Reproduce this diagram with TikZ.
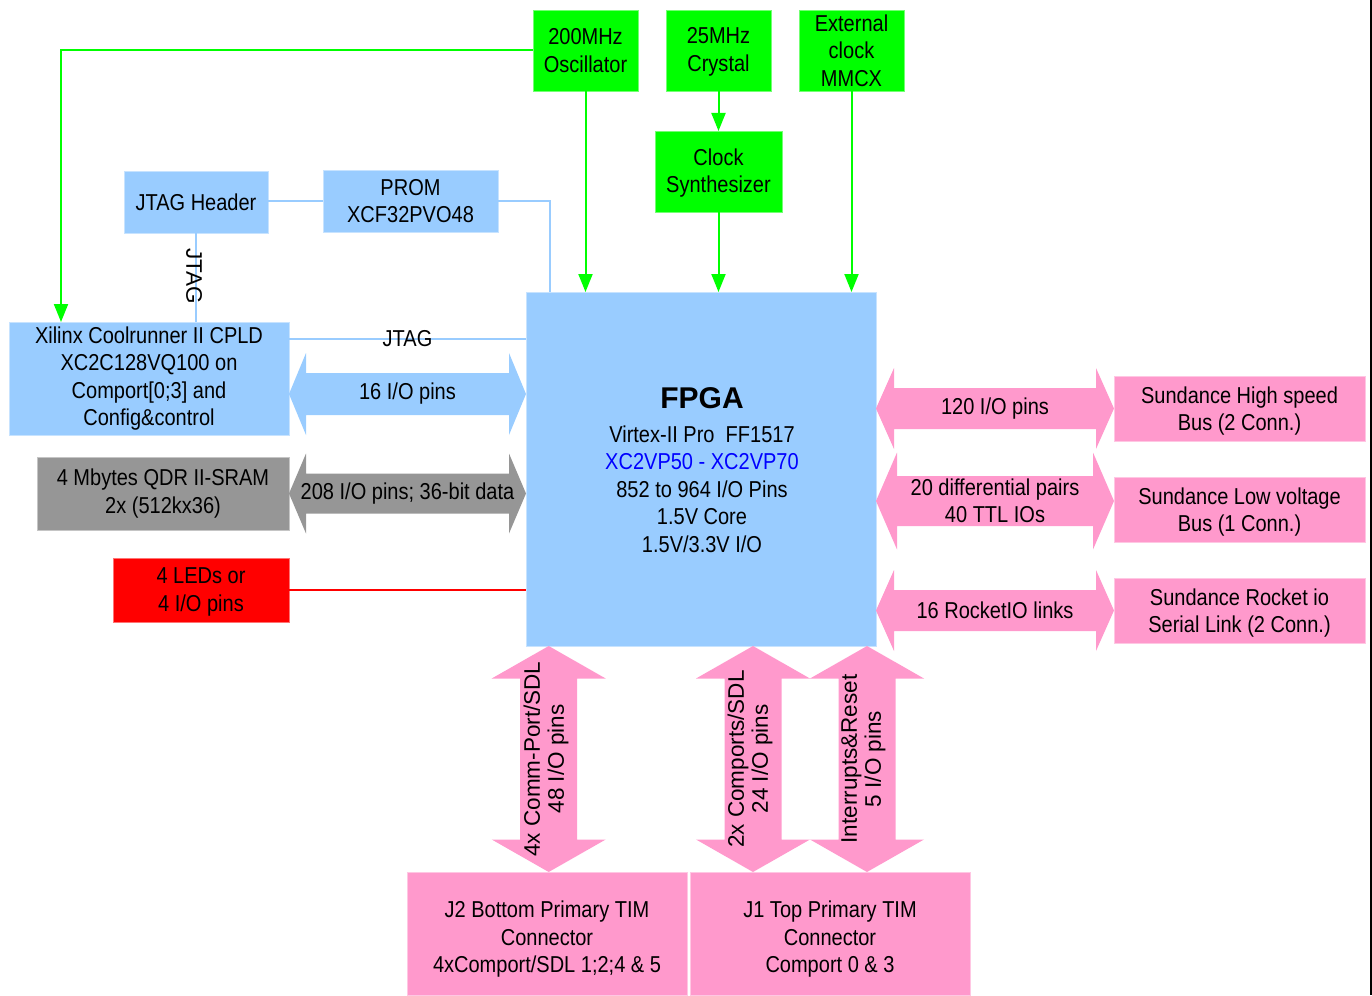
\documentclass[tikz,border=0pt]{standalone}
\usepackage{fontspec}
\setmainfont{Liberation Sans}[FakeStretch=0.87]
\newfontfamily\vfont{Liberation Sans}
\usetikzlibrary{arrows.meta,calc}
\definecolor{lblue}{HTML}{99CCFF}
\definecolor{pinkc}{HTML}{FF99CC}
\definecolor{grn}{HTML}{00FF00}
\definecolor{grayc}{HTML}{969696}
\definecolor{redc}{HTML}{FF0000}
\definecolor{bluet}{HTML}{0000FF}
% horizontal double arrow: left tip, right tip, head length, head half width, shaft half width, style
\newcommand\hdarr[6]{%
 \fill[#6] (#1) -- ($(#1)+(#3,-#4)$) -- ($(#1)+(#3,-#5)$) -- ($(#2)+(-#3,-#5)$) -- ($(#2)+(-#3,-#4)$) -- (#2)
  -- ($(#2)+(-#3,#4)$) -- ($(#2)+(-#3,#5)$) -- ($(#1)+(#3,#5)$) -- ($(#1)+(#3,#4)$) -- cycle;}
% vertical double arrow: top tip, bottom tip, head length, head half width, shaft half width, style
\newcommand\vdarr[6]{%
 \fill[#6] (#1) -- ($(#1)+(#4,#3)$) -- ($(#1)+(#5,#3)$) -- ($(#2)+(#5,-#3)$) -- ($(#2)+(#4,-#3)$) -- (#2)
  -- ($(#2)+(-#4,-#3)$) -- ($(#2)+(-#5,-#3)$) -- ($(#1)+(-#5,#3)$) -- ($(#1)+(-#4,#3)$) -- cycle;}
\newcommand\lowr[1]{\rule{0pt}{#1pt}}
\begin{document}
\begin{tikzpicture}[x=1pt,y=-1pt,
  every node/.style={font=\fontsize{23}{27.5}\selectfont},
  blk/.style={inner sep=0pt, outer sep=0pt, align=center, text=black, line width=0.6pt},
  gbox/.style={blk, fill=grn, draw=grn!55!white},
  bbox/.style={blk, fill=lblue, draw=lblue!55!white},
  pbox/.style={blk, fill=pinkc, draw=pinkc!55!white},
  gybox/.style={blk, fill=grayc, draw=grayc!55!white},
  rbox/.style={blk, fill=redc, draw=redc!55!white},
  garr/.style={draw=grn, line width=2pt, -{Triangle[width=14pt,length=18pt]}},
  bline/.style={draw=lblue, line width=1.8pt},
  rline/.style={draw=redc, line width=1.6pt},
  lab/.style={inner sep=0pt, align=center},
  vlab/.style={font=\vfont\fontsize{22.5}{24}\selectfont, rotate=90, align=center, inner sep=0pt},
]
\useasboundingbox (0,0) rectangle (1372,995);

% clock sources
\node[gbox, minimum width=105pt, minimum height=81pt] (osc)  at (585.5,50.5) {200MHz\\Oscillator};
\node[gbox, minimum width=105pt, minimum height=81pt] (xtal) at (718.5,50.5) {\lowr{19}25MHz\\Crystal};
\node[gbox, minimum width=105pt, minimum height=81pt] (ext)  at (851.5,50.5) {External\\clock\\MMCX};
\node[gbox, minimum width=127pt, minimum height=81pt] (synth) at (718.5,171.5) {\lowr{20}Clock\\Synthesizer};

% left blocks
\node[bbox, minimum width=144pt, minimum height=62pt] (jtaghdr) at (196,202) {JTAG Header};
\node[bbox, minimum width=175pt, minimum height=62pt] (prom) at (410.5,201) {PROM\\XCF32PVO48};
\node[bbox, minimum width=280pt, minimum height=113pt] (cpld) at (149,378.5)
  {Xilinx Coolrunner II CPLD\\XC2C128VQ100 on\\Comport[0;3] and\\Config\&control};
\node[gybox, minimum width=252pt, minimum height=73pt] (qdr) at (163,493.5) {4 Mbytes QDR II-SRAM\\2x (512kx36)};
\node[rbox, minimum width=176pt, minimum height=64pt] (led) at (201,590) {\lowr{20}4 LEDs or\\4 I/O pins};

% FPGA
\node[bbox, minimum width=350pt, minimum height=354pt] (fpga) at (701,469) {};
\node[lab, font=\vfont\bfseries\fontsize{30}{34}\selectfont] (fpgat) at ($(fpga.center)+(1,-71)$) {FPGA};
\node[lab] (fpgab) at ($(fpga.center)+(1,20)$)
  {Virtex-II Pro\ \ FF1517\\\textcolor{bluet}{XC2VP50 - XC2VP70}\\852 to 964 I/O Pins\\1.5V Core\\1.5V/3.3V I/O};

% right blocks
\node[pbox, minimum width=251pt, minimum height=65pt] (hs)  at (1239.5,408.5) {\lowr{22}Sundance High speed\\Bus (2 Conn.)};
\node[pbox, minimum width=251pt, minimum height=65pt] (lv)  at (1239.5,509.5) {\lowr{22}Sundance Low voltage\\Bus (1 Conn.)};
\node[pbox, minimum width=251pt, minimum height=65pt] (rio) at (1239.5,610.5) {\lowr{22}Sundance Rocket io\\Serial Link (2 Conn.)};

% bottom connectors
\node[pbox, minimum width=280pt, minimum height=123pt] (j2) at (547,933.5) {\lowr{28}J2 Bottom Primary TIM\\Connector\\4xComport/SDL 1;2;4 \& 5};
\node[pbox, minimum width=280pt, minimum height=123pt] (j1) at (830,933.5) {\lowr{28}J1 Top Primary TIM\\Connector\\Comport 0 \& 3};

% green clock connectors
\draw[garr] (osc.west) -| ([xshift=52pt]cpld.north west);
\draw[garr] (osc.south) -- (osc.south |- fpga.north);
\draw[garr] (xtal.south) -- (synth.north);
\draw[garr] (synth.south) -- (synth.south |- fpga.north);
\draw[garr] (ext.south) -- (ext.south |- fpga.north);

% JTAG chain
\draw[bline] (prom.west -| jtaghdr.east) -- (prom.west);
\draw[bline] (prom.east) -| ([xshift=24pt]fpga.north west);
\draw[bline] (jtaghdr.south) -- (jtaghdr.south |- cpld.north);
\node[vlab, rotate=180] (jtagv) at ($(jtaghdr.south)!0.5!(jtaghdr.south |- cpld.north)+(-2,-1)$) {JTAG};
\coordinate (yjt) at (0,339);
\draw[bline] (cpld.east |- yjt) -- (fpga.west |- yjt);
\node[lab] (jtagh) at ($(cpld.east |- yjt)!0.5!(fpga.west |- yjt)$) {JTAG};

% left bus arrows
\coordinate (y16) at (0,394);
\coordinate (l16a) at (cpld.east |- y16);
\coordinate (l16b) at (fpga.west |- y16);
\hdarr{l16a}{l16b}{17}{41}{21}{lblue}
\node[lab] (t16) at ($(l16a)!0.5!(l16b)$) {16 I/O pins};

\coordinate (l208a) at (qdr.east);
\coordinate (l208b) at (fpga.west |- qdr.east);
\hdarr{l208a}{l208b}{17}{40}{20}{grayc}
\node[lab] (t208) at ($(l208a)!0.5!(l208b)$) {208 I/O pins; 36-bit data};

\draw[rline] (led.east) -- (led.east -| fpga.west);

% right bus arrows
\coordinate (r120a) at (fpga.east |- hs.west);
\coordinate (r120b) at (hs.west);
\hdarr{r120a}{r120b}{18}{40.5}{20.5}{pinkc}
\node[lab] (t120) at ($(r120a)!0.5!(r120b)$) {120 I/O pins};

\coordinate (y20) at (0,501);
\coordinate (r20a) at (fpga.east |- y20);
\coordinate (r20b) at (lv.west |- y20);
\hdarr{r20a}{r20b}{21}{48.5}{25}{pinkc}
\node[lab] (t20) at ($(r20a)!0.5!(r20b)$) {20 differential pairs\\40 TTL IOs};

\coordinate (rrioa) at (fpga.east |- rio.west);
\coordinate (rriob) at (rio.west);
\hdarr{rrioa}{rriob}{18}{40.5}{20.5}{pinkc}
\node[lab] (trio) at ($(rrioa)!0.5!(rriob)$) {16 RocketIO links};

% bottom arrows
\coordinate (b1a) at ([xshift=22.7pt]fpga.south west);
\coordinate (b1b) at (b1a |- j2.north);
\vdarr{b1a}{b1b}{32.5}{57}{28.5}{pinkc}
\node[vlab] (tb1) at ($(b1a)!0.5!(b1b)+(-2.7,0)$) {4x Comm-Port/SDL\\48 I/O pins};

\coordinate (b2a) at ([xshift=227pt]fpga.south west);
\coordinate (b2b) at (b2a |- j1.north);
\vdarr{b2a}{b2b}{32.5}{57}{28.5}{pinkc}
\node[vlab] (tb2) at ($(b2a)!0.5!(b2b)+(-3,0)$) {2x Comports/SDL\\24 I/O pins};

\coordinate (b3a) at ([xshift=341pt]fpga.south west);
\coordinate (b3b) at (b3a |- j1.north);
\vdarr{b3a}{b3b}{32.5}{57}{28.5}{pinkc}
\node[vlab] (tb3) at ($(b3a)!0.5!(b3b)+(-3.5,0)$) {Interrupts\&Reset\\5 I/O pins};

% right border line
\draw[line width=2pt] (1370.5,0) -- (1370.5,995);
\end{tikzpicture}
\end{document}
